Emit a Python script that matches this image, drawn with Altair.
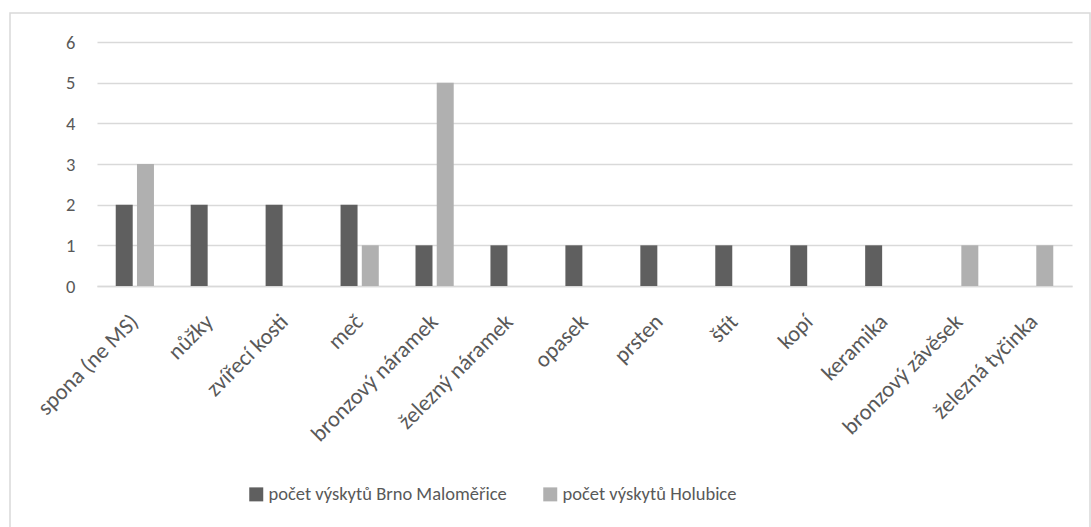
import altair as alt
import pandas as pd

# Item types and their occurrence counts at the two sites
categories = [
    "spona (ne MS)", "nůžky", "zvířecí kosti", "meč", "bronzový náramek",
    "železný náramek", "opasek", "prsten", "štít", "kopí", "keramika",
    "bronzový závěsek", "železná tyčinka",
]
series_names = ["počet výskytů Brno Maloměřice", "počet výskytů Holubice"]
brno_counts = [2, 2, 2, 2, 1, 1, 1, 1, 1, 1, 1, 0, 0]
holubice_counts = [3, 0, 0, 1, 5, 0, 0, 0, 0, 0, 0, 1, 1]
y_ticks = [0, 1, 2, 3, 4, 5, 6]

series_colors = ["#5f5f5f", "#b0b0b0"]
font = "Carlito, Calibri, Lato, sans-serif"
text_color = "#595959"
line_color = "#d9d9d9"

rows = []
for cat, b, h in zip(categories, brno_counts, holubice_counts):
    rows.append({"kategorie": cat, "série": series_names[0], "počet": b})
    rows.append({"kategorie": cat, "série": series_names[1], "počet": h})
df = pd.DataFrame(rows)

bars = alt.Chart(df).mark_bar().encode(
    x=alt.X(
        "kategorie:N",
        sort=categories,
        title=None,
        scale=alt.Scale(paddingInner=0.49, paddingOuter=0.25),
        axis=alt.Axis(
            labelAngle=-45,
            labelAlign="right",
            labelBaseline="top",
            labelPadding=24,
            labelOffset=-8,
            labelFontSize=22.5,
            ticks=False,
            domain=True,
            domainColor=line_color,
            domainWidth=1.3,
            grid=False,
            labelLimit=300,
        ),
    ),
    xOffset=alt.XOffset(
        "série:N",
        sort=series_names,
        scale=alt.Scale(paddingInner=0.2),
    ),
    y=alt.Y(
        "počet:Q",
        title=None,
        scale=alt.Scale(domain=[0, 6], nice=False),
        axis=alt.Axis(
            values=y_ticks,
            format="d",
            grid=True,
            gridColor=line_color,
            gridWidth=1.3,
            domain=False,
            ticks=False,
            labelPadding=22,
        ),
    ),
    color=alt.Color(
        "série:N",
        sort=series_names,
        scale=alt.Scale(domain=series_names, range=series_colors),
        legend=alt.Legend(
            title=None,
            orient="none",
            direction="horizontal",
            legendX=150,
            legendY=443,
            symbolType="square",
            symbolSize=196,
            symbolStrokeWidth=0,
            columnPadding=34,
            labelOffset=3,
            labelLimit=400,
            padding=0,
        ),
    ),
)

# Thin frame around the whole chart
frame = alt.Chart(pd.DataFrame({"f": [0]})).mark_rect(
    fillOpacity=0, stroke=line_color, strokeWidth=1.5
).encode(
    x=alt.value(-87),
    x2=alt.value(993),
    y=alt.value(-29),
    y2=alt.value(520),
)

chart = alt.layer(frame, bars).properties(
    width=975,
    height=244,
    autosize=alt.AutoSizeParams(type="none"),
    padding={"left": 97, "top": 42, "right": 19, "bottom": 241},
).configure_view(
    stroke=None
).configure_axis(
    labelFont=font,
    labelFontSize=18.5,
    labelColor=text_color,
).configure_legend(
    labelFont=font,
    labelFontSize=18.5,
    labelColor=text_color,
)

chart.save("out.html", embed_options={"renderer": "svg", "actions": False})
